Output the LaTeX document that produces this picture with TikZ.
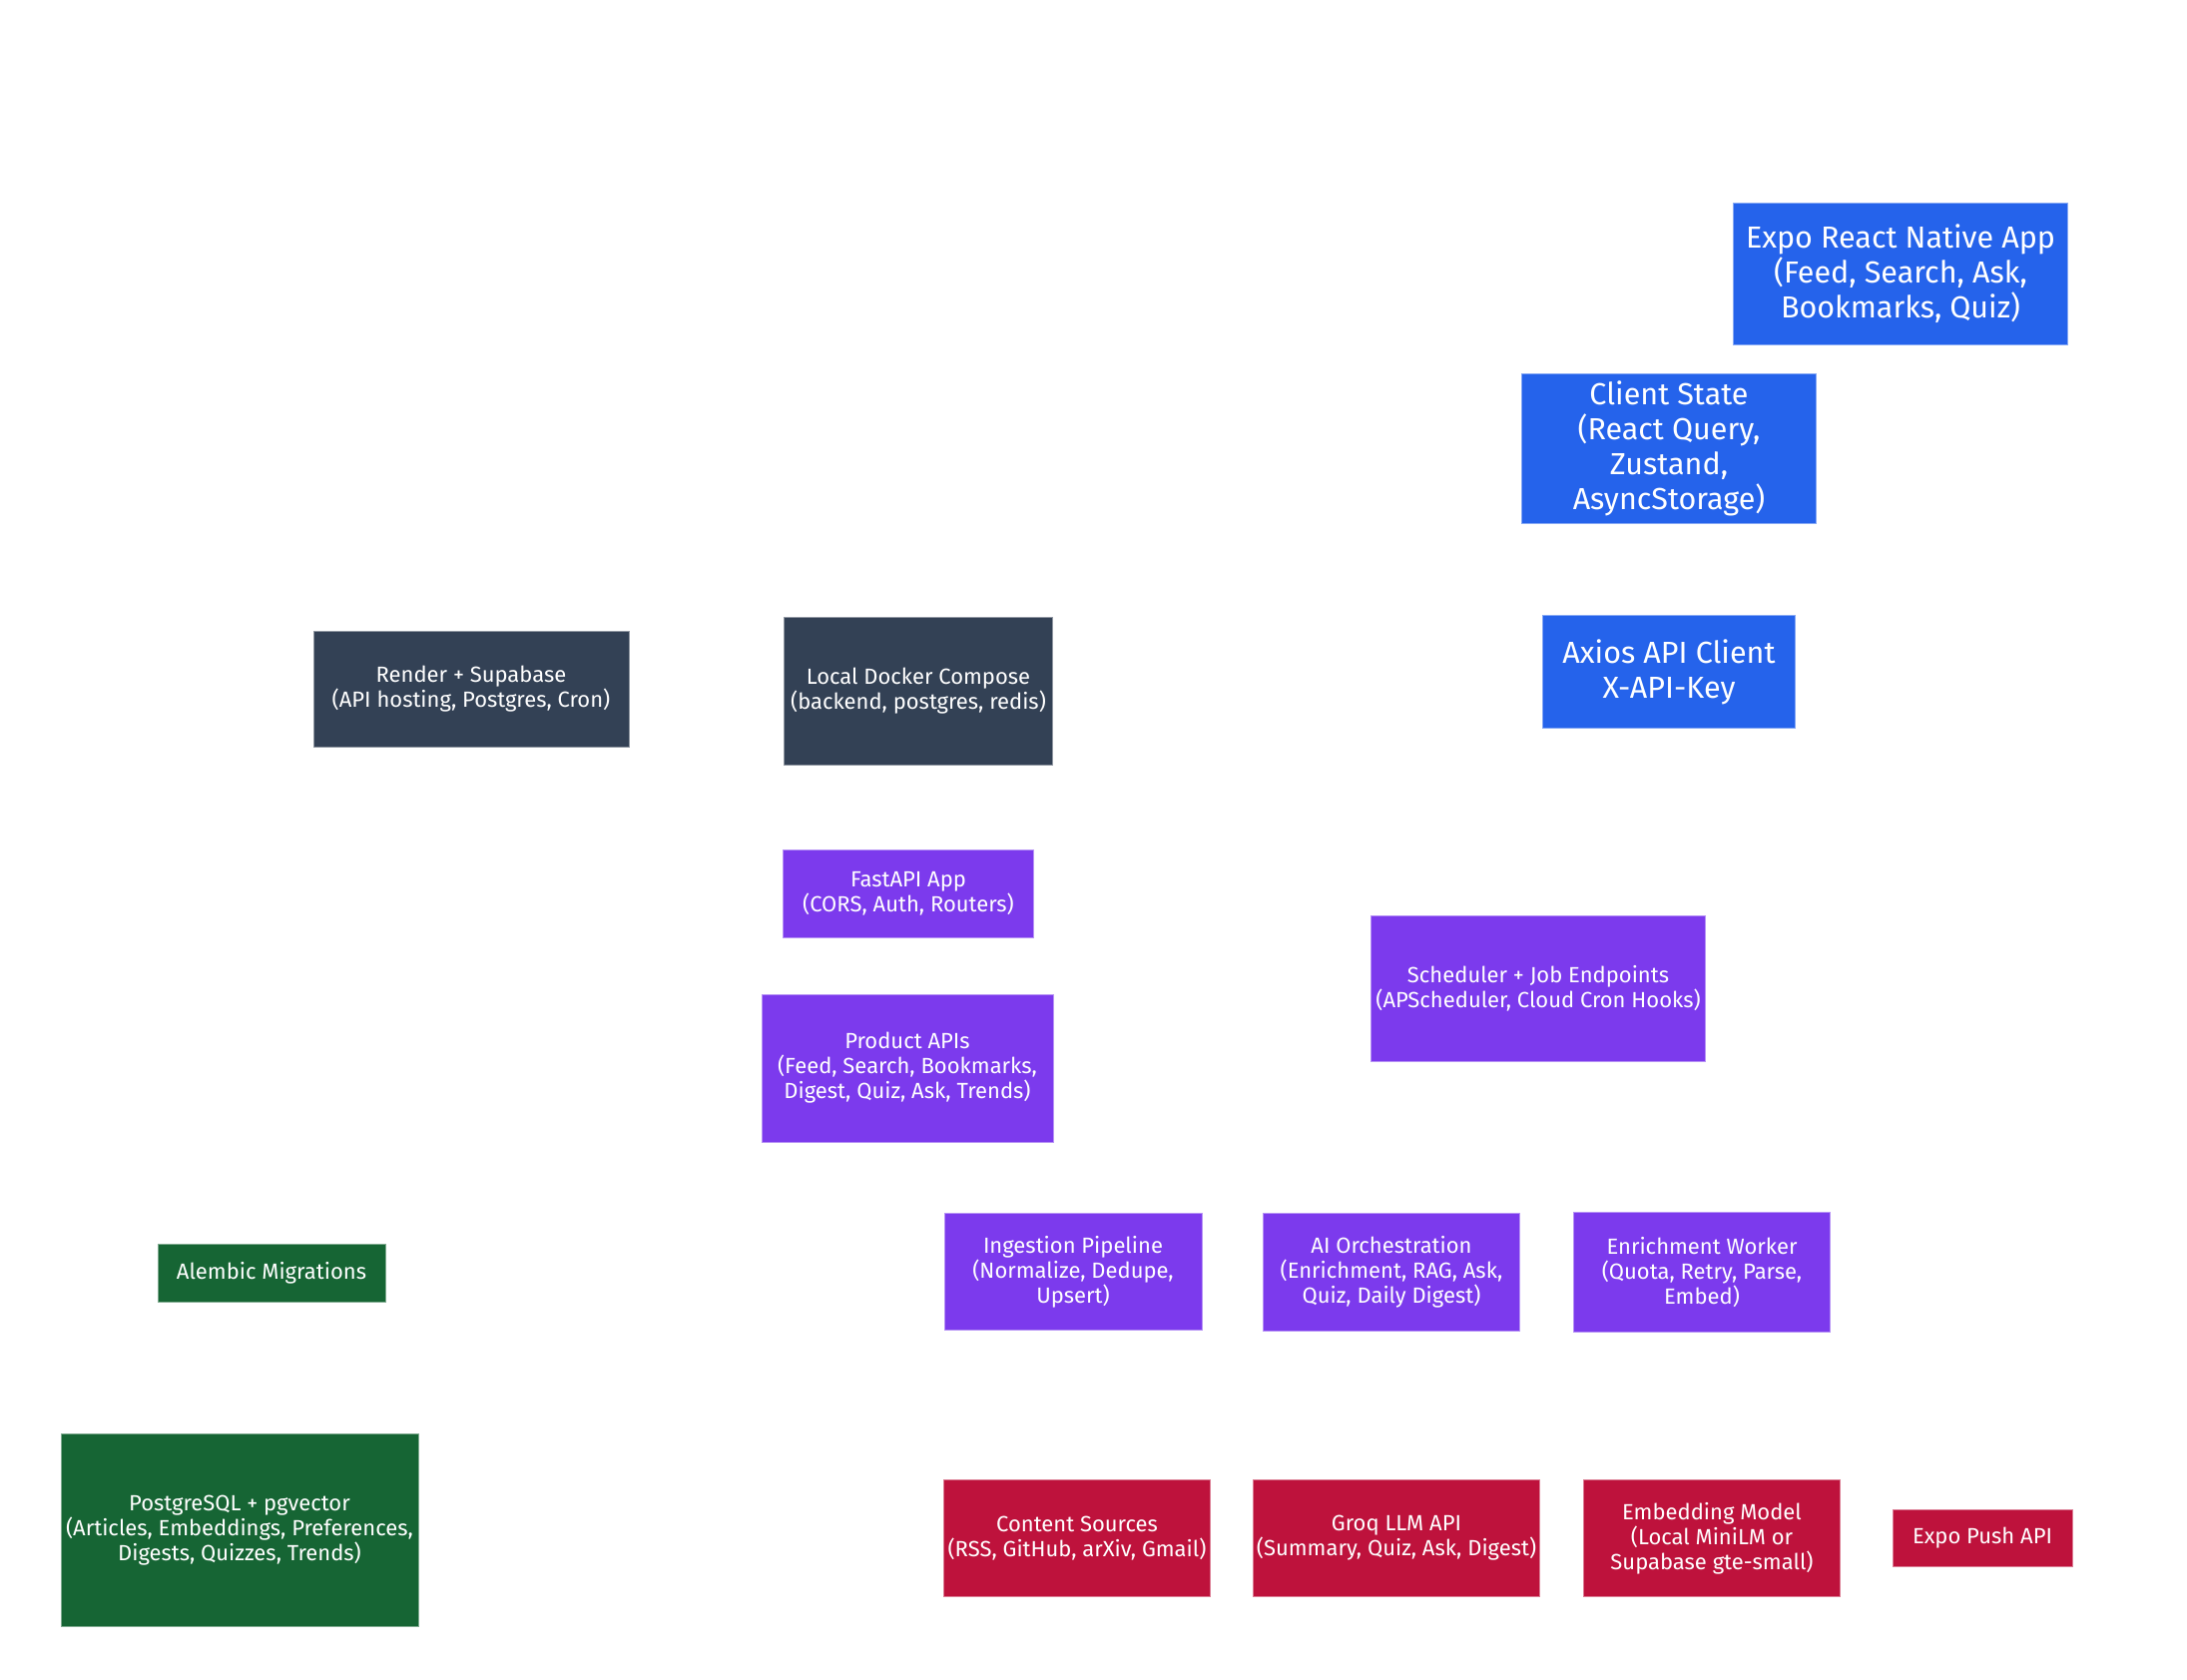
\documentclass[tikz,border=0pt]{standalone}
\usepackage{fontspec}
\setmainfont{Fira Sans}
\definecolor{cClient}{RGB}{37, 99, 235}
\definecolor{cInfra}{RGB}{51, 65, 85}
\definecolor{cCore}{RGB}{124, 58, 237}
\definecolor{cData}{RGB}{22, 101, 52}
\definecolor{cExt}{RGB}{190, 18, 60}

\begin{document}
\begin{tikzpicture}[
    x=1pt, y=-1pt,
    box/.style={inner sep=0pt, align=center, text=white, fill=#1,
        draw=#1!55!white, line width=0.9pt},
    big/.style={font=\fontsize{30.5}{35}\selectfont},
    small/.style={font=\fontsize{22}{25}\selectfont}
]
    \useasboundingbox (0, 0) rectangle (2191, 1682);

    % ================= client side (blue) =================
    \node[box=cClient, big, minimum width=335pt, minimum height=142pt] (app) at (1904, 274)
        {Expo React Native App\\(Feed, Search, Ask,\\Bookmarks, Quiz)};
    \node[box=cClient, big, minimum width=295pt, minimum height=150pt] (state) at (1672, 449)
        {Client State\\(React Query,\\Zustand,\\AsyncStorage)};
    \node[box=cClient, big, minimum width=253pt, minimum height=113pt] (axios) at (1672, 673)
        {Axios API Client\\X-API-Key};

    % ================= deployment (slate) =================
    \node[box=cInfra, small, minimum width=316pt, minimum height=116pt] (render) at (472, 690)
        {Render + Supabase\\(API hosting, Postgres, Cron)};
    \node[box=cInfra, small, minimum width=269pt, minimum height=148pt] (docker) at (920, 692)
        {Local Docker Compose\\(backend, postgres, redis)};

    % ================= backend (violet) =================
    \node[box=cCore, small, minimum width=251pt, minimum height=88pt] (fastapi) at (910, 895)
        {FastAPI App\\(CORS, Auth, Routers)};
    \node[box=cCore, small, minimum width=292pt, minimum height=148pt] (product) at (909, 1070)
        {Product APIs\\(Feed, Search, Bookmarks,\\Digest, Quiz, Ask, Trends)};
    \node[box=cCore, small, minimum width=335pt, minimum height=146pt] (scheduler) at (1541, 990)
        {Scheduler + Job Endpoints\\(APScheduler, Cloud Cron Hooks)};
    \node[box=cCore, small, minimum width=258pt, minimum height=117pt] (ingest) at (1075, 1274)
        {Ingestion Pipeline\\(Normalize, Dedupe,\\Upsert)};
    \node[box=cCore, small, minimum width=257pt, minimum height=118pt] (orch) at (1394, 1274)
        {AI Orchestration\\(Enrichment, RAG, Ask,\\Quiz, Daily Digest)};
    \node[box=cCore, small, minimum width=257pt, minimum height=120pt] (worker) at (1705, 1274)
        {Enrichment Worker\\(Quota, Retry, Parse,\\Embed)};

    % ================= data (green) =================
    \node[box=cData, small, minimum width=228pt, minimum height=58pt] (alembic) at (272, 1275)
        {Alembic Migrations};
    \node[box=cData, small, minimum width=358pt, minimum height=193pt] (pg) at (240, 1533)
        {PostgreSQL + pgvector\\(Articles, Embeddings, Preferences,\\Digests, Quizzes, Trends)};

    % ================= external services (rose) =================
    \node[box=cExt, small, minimum width=267pt, minimum height=117pt] (sources) at (1079, 1541)
        {Content Sources\\(RSS, GitHub, arXiv, Gmail)};
    \node[box=cExt, small, minimum width=287pt, minimum height=117pt] (groq) at (1399, 1541)
        {Groq LLM API\\(Summary, Quiz, Ask, Digest)};
    \node[box=cExt, small, minimum width=257pt, minimum height=117pt] (embed) at (1715, 1541)
        {Embedding Model\\(Local MiniLM or\\Supabase gte-small)};
    \node[box=cExt, small, minimum width=180pt, minimum height=57pt] (push) at (1986, 1541)
        {Expo Push API};

\end{tikzpicture}
\end{document}
